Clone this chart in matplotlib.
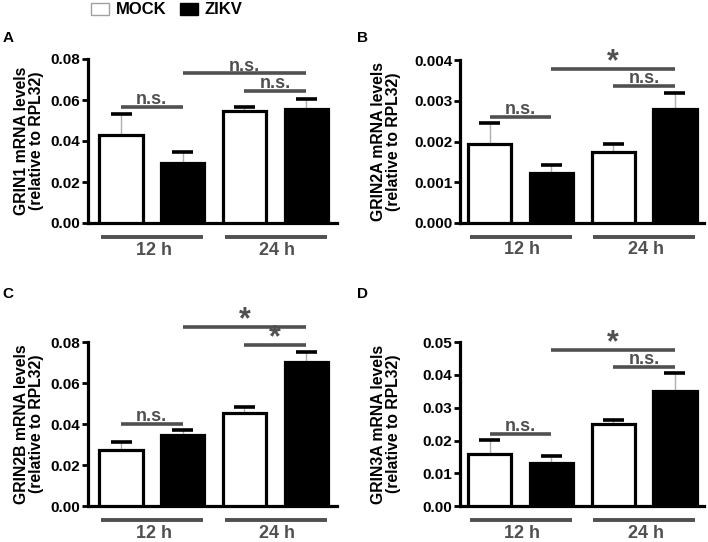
import matplotlib
matplotlib.use("Agg")
import matplotlib.pyplot as plt
from matplotlib.patches import Patch
from matplotlib.transforms import blended_transform_factory

plt.rcParams['font.family'] = ['Liberation Sans', 'DejaVu Sans']
plt.rcParams['font.weight'] = 'bold'

# ---- data ----
time_groups = ["12 h", "24 h"]
series_names = ["MOCK", "ZIKV"]
genes = ["GRIN1", "GRIN2A", "GRIN2B", "GRIN3A"]
panel_letters = ["A", "B", "C", "D"]

# order per panel: MOCK 12h, ZIKV 12h, MOCK 24h, ZIKV 24h
grin1_mean = [0.0430, 0.0292, 0.0545, 0.0558]
grin1_err = [0.0103, 0.0053, 0.0019, 0.0047]
grin2a_mean = [0.00194, 0.00123, 0.00175, 0.00280]
grin2a_err = [0.00051, 0.00020, 0.00019, 0.00040]
grin2b_mean = [0.0276, 0.0346, 0.0456, 0.0703]
grin2b_err = [0.0036, 0.0025, 0.0026, 0.0050]
grin3a_mean = [0.0159, 0.0131, 0.0250, 0.0350]
grin3a_err = [0.0044, 0.0021, 0.0013, 0.0056]

y_max = [0.08, 0.004, 0.08, 0.05]
y_step = [0.02, 0.001, 0.02, 0.01]
y_fmt = ["%.2f", "%.3f", "%.2f", "%.2f"]

# significance comparisons: (bar i, bar j, level, label)
sig_A = [(0, 1, 0.0565, "n.s."), (1, 3, 0.0730, "n.s."), (2, 3, 0.0645, "n.s.")]
sig_B = [(0, 1, 0.00261, "n.s."), (1, 3, 0.00379, "*"), (2, 3, 0.00336, "n.s.")]
sig_C = [(0, 1, 0.0401, "n.s."), (1, 3, 0.0875, "*"), (2, 3, 0.0784, "*")]
sig_D = [(0, 1, 0.0221, "n.s."), (1, 3, 0.0476, "*"), (2, 3, 0.0424, "n.s.")]

means = [grin1_mean, grin2a_mean, grin2b_mean, grin3a_mean]
errs = [grin1_err, grin2a_err, grin2b_err, grin3a_err]
sigs = [sig_A, sig_B, sig_C, sig_D]

# ---- layout ----
W, H = 708, 542
fig = plt.figure(figsize=(W / 100, H / 100), dpi=100)
rects = [
    [88 / W, 1 - 223 / H, 249 / W, 164 / H],
    [460 / W, 1 - 223 / H, 244 / W, 163 / H],
    [88 / W, 1 - 506.3 / H, 249 / W, 164.3 / H],
    [460 / W, 1 - 506.3 / H, 244 / W, 164.3 / H],
]
xlims = [(-0.535, 3.5), (-0.48, 3.47), (-0.535, 3.5), (-0.48, 3.47)]
ylabel_x = [-0.175, -0.242, -0.175, -0.242]
letter_pos = [(8, 38), (362, 38), (8, 294), (362, 294)]

GRAY = "#505050"
xpos = [0, 1, 2, 3]
bw = 0.70
cap_half = 0.17

for k in range(4):
    ax = fig.add_axes(rects[k])
    m, e = means[k], errs[k]
    face = ["white", "black", "white", "black"]
    ax.bar(xpos, m, width=bw, color=face, edgecolor="black", linewidth=2.3, zorder=3)
    tops = [mi + ei for mi, ei in zip(m, e)]
    ax.vlines(xpos, m, tops, color="#b0b0b0", linewidth=1.0, zorder=2)
    ax.hlines(tops, [x - cap_half for x in xpos], [x + cap_half for x in xpos],
              color="black", linewidth=2.6, zorder=4)

    ax.set_xlim(*xlims[k])
    ax.set_ylim(0, y_max[k])
    n = int(round(y_max[k] / y_step[k]))
    ticks = [i * y_step[k] for i in range(n + 1)]
    ax.set_yticks(ticks)
    ax.set_yticklabels([y_fmt[k] % t for t in ticks], fontsize=11, fontweight="bold")
    ax.set_xticks([])
    for s in ["top", "right"]:
        ax.spines[s].set_visible(False)
    ax.spines["left"].set_linewidth(2.3)
    ax.spines["bottom"].set_linewidth(2.3)
    ax.tick_params(axis="y", width=2.0, length=4, pad=1.5)
    ax.set_ylabel(f"{genes[k]} mRNA levels\n(relative to RPL32)", fontsize=11.3,
                  fontweight="bold", linespacing=1.0)
    ax.yaxis.set_label_coords(ylabel_x[k], 0.5)

    # significance bars
    for (i, j, lvl, lab) in sigs[k]:
        ax.plot([xpos[i], xpos[j]], [lvl, lvl], color=GRAY, linewidth=2.6,
                solid_capstyle="butt", clip_on=False, zorder=5)
        xm = (xpos[i] + xpos[j]) / 2
        if lab == "*":
            ax.annotate(lab, (xm, lvl), xytext=(0, -6), textcoords="offset points",
                        ha="center", va="bottom", fontsize=22, color=GRAY,
                        fontweight="bold", annotation_clip=False)
        else:
            ax.annotate(lab, (xm, lvl), xytext=(0, 2), textcoords="offset points",
                        ha="center", va="baseline", fontsize=13, color=GRAY,
                        fontweight="bold", annotation_clip=False)

    # time group lines under the axis
    tr = blended_transform_factory(ax.transData, ax.transAxes)
    for g, name in enumerate(time_groups):
        a, b = xpos[2 * g], xpos[2 * g + 1]
        ax.plot([a - 0.32, b + 0.33], [-0.086, -0.086], transform=tr, color=GRAY,
                linewidth=2.8, solid_capstyle="butt", clip_on=False)
        ax.text((a + b) / 2 + 0.03, -0.165, name, transform=tr, ha="center", va="center",
                fontsize=13, fontweight="bold", color=GRAY)

    lx, ly = letter_pos[k]
    fig.text(lx / W, 1 - ly / H, panel_letters[k], ha="center", va="center",
             fontsize=11, fontweight="bold")

handles = [Patch(facecolor="white", edgecolor="#a0a0a0", linewidth=1.0),
           Patch(facecolor="black", edgecolor="black", linewidth=1.0)]
fig.legend(handles, series_names, loc="center left", bbox_to_anchor=(91 / W, 1 - 10 / H),
           ncol=2, frameon=False, handlelength=1.1, handleheight=0.75,
           handletextpad=0.4, columnspacing=0.8, borderaxespad=0, borderpad=0,
           prop={"weight": "bold", "size": 12})

fig.savefig("out.png", dpi=100)
